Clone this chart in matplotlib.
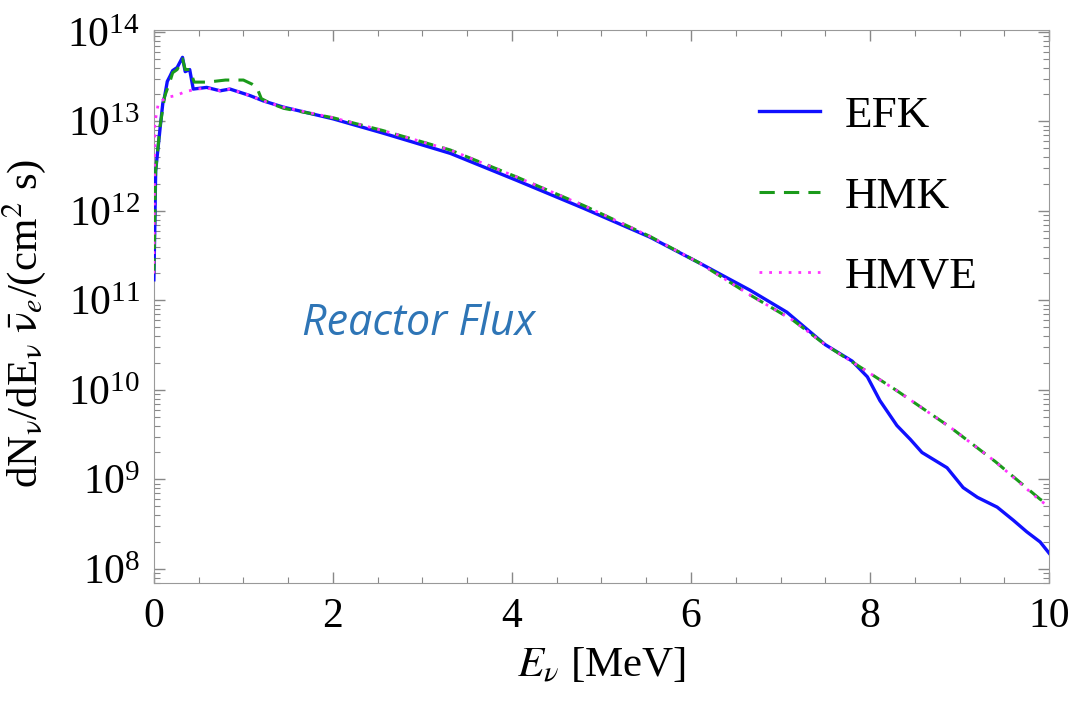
import matplotlib
matplotlib.use('Agg')
import matplotlib.pyplot as plt
from matplotlib.ticker import LogLocator, MultipleLocator, NullFormatter

plt.rcParams['font.family'] = ['Liberation Serif', 'DejaVu Serif']
plt.rcParams['mathtext.fontset'] = 'stix'

# EFK (solid blue)
efk_E = [0.0, 0.01, 0.02, 0.07, 0.1, 0.12, 0.15, 0.18, 0.21, 0.26, 0.32, 0.35, 0.4, 0.44,
         0.59, 0.74, 0.85, 1.07, 1.22, 1.44, 2.0, 2.56, 3.31, 4.05, 4.8, 5.54, 6.1, 6.66,
         7.07, 7.5, 7.8, 7.97, 8.11, 8.3, 8.45, 8.58, 8.86, 9.04, 9.2, 9.42, 9.6, 9.75, 9.9, 10.0]
efk_flux = [1.7e11, 6.3e11, 2.8e12, 8.5e12, 1.6e13, 1.9e13, 2.8e13, 3.2e13, 3.7e13, 4.0e13,
            5.2e13, 3.6e13, 3.8e13, 2.3e13, 2.4e13, 2.2e13, 2.3e13, 1.95e13, 1.7e13, 1.45e13,
            1.07e13, 7.4e12, 4.4e12, 2.2e12, 1.07e12, 5.1e11, 2.6e11, 1.3e11, 7.4e10,
            3.2e10, 2.1e10, 1.4e10, 7.6e9, 4.0e9, 2.8e9, 2.0e9, 1.35e9, 8.1e8, 6.3e8,
            4.9e8, 3.5e8, 2.6e8, 2.0e8, 1.5e8]

# HMK (dashed green)
hmk_E = [0.0, 0.02, 0.07, 0.12, 0.18, 0.21, 0.26, 0.32, 0.35, 0.4, 0.45, 0.6, 0.8, 1.0,
         1.1, 1.15, 1.2, 1.3, 1.45, 2.0, 2.56, 3.31, 4.05, 4.8, 5.54, 6.1, 6.66, 7.14,
         7.5, 7.97, 8.3, 8.9, 9.4, 9.9, 10.0]
hmk_flux = [2.0e11, 2.8e12, 8.9e12, 1.9e13, 2.8e13, 3.5e13, 3.8e13, 5.0e13, 3.8e13, 3.8e13,
            2.75e13, 2.75e13, 2.9e13, 2.9e13, 2.6e13, 2.4e13, 1.8e13, 1.6e13, 1.4e13,
            1.1e13, 7.9e12, 4.8e12, 2.4e12, 1.15e12, 5.2e11, 2.6e11, 1.15e11, 6.0e10,
            3.2e10, 1.6e10, 9.8e9, 3.8e9, 1.58e9, 6.0e8, 5.2e8]

# HMVE (dotted magenta)
hmve_E = [0.0, 0.01, 0.05, 0.14, 0.25, 0.35, 0.48, 0.6, 0.74, 0.85, 1.07, 1.22, 1.44, 2.0,
          2.56, 3.31, 4.05, 4.8, 5.54, 6.1, 6.66, 7.14, 7.5, 7.97, 8.3, 8.9, 9.4, 9.9, 10.0]
hmve_flux = [2.0e11, 9.5e12, 1.6e13, 1.85e13, 1.95e13, 2.15e13, 2.3e13, 2.35e13, 2.2e13,
             2.3e13, 1.95e13, 1.7e13, 1.45e13, 1.1e13, 7.9e12, 4.8e12, 2.4e12, 1.15e12,
             5.2e11, 2.6e11, 1.15e11, 6.0e10, 3.2e10, 1.6e10, 9.8e9, 3.8e9, 1.58e9,
             5.8e8, 5.0e8]

fig = plt.figure(figsize=(10.76, 7.01), dpi=100)
ax = fig.add_axes([0.143, 0.168, 0.832, 0.789])

ax.plot(efk_E, efk_flux, color='#1010ff', lw=2.4, label='EFK', zorder=3)
ax.plot(hmk_E, hmk_flux, color='#1a9a1a', lw=2.2, ls=(0, (5, 3)), label='HMK', zorder=4)
ax.plot(hmve_E, hmve_flux, color='#ff33ff', lw=2.0, ls=(0, (1, 2.5)), label='HMVE', zorder=5)

ax.set_yscale('log')
ax.set_xlim(0, 10)
ax.set_ylim(10**7.84, 10**14.02)

ax.xaxis.set_major_locator(MultipleLocator(2))
ax.xaxis.set_minor_locator(MultipleLocator(0.5))
ax.yaxis.set_major_locator(LogLocator(base=10, numticks=20))
ax.yaxis.set_minor_locator(LogLocator(base=10, subs=range(2, 10), numticks=20))
ax.yaxis.set_minor_formatter(NullFormatter())

ax.tick_params(which='both', direction='in', top=True, right=True, color='#888888',
               labelsize=30, pad=10)
ax.tick_params(which='major', length=8, width=1)
ax.tick_params(which='minor', length=4, width=0.8)
for s in ax.spines.values():
    s.set_color('#999999')

ax.set_xlabel(r'$E_\nu$ [MeV]', fontsize=31, labelpad=8)
ax.set_ylabel(r'dN$_{\mathrm{\nu}}$/dE$_{\mathrm{\nu}}$ $\bar{\mathrm{\nu}}_e$/(cm$^2$ s)',
              fontsize=31)
ax.yaxis.set_label_coords(-0.118, 0.47)

ax.text(0.296, 0.47, 'Reactor Flux', transform=ax.transAxes, ha='center', va='center',
        fontsize=31, color='#2e75b6', style='italic', family='Open Sans')

ax.legend(loc='upper right', bbox_to_anchor=(0.966, 0.955), frameon=False, fontsize=32.5,
          handlelength=1.35, handletextpad=0.55, labelspacing=0.88)

fig.savefig('out.png', dpi=100)
